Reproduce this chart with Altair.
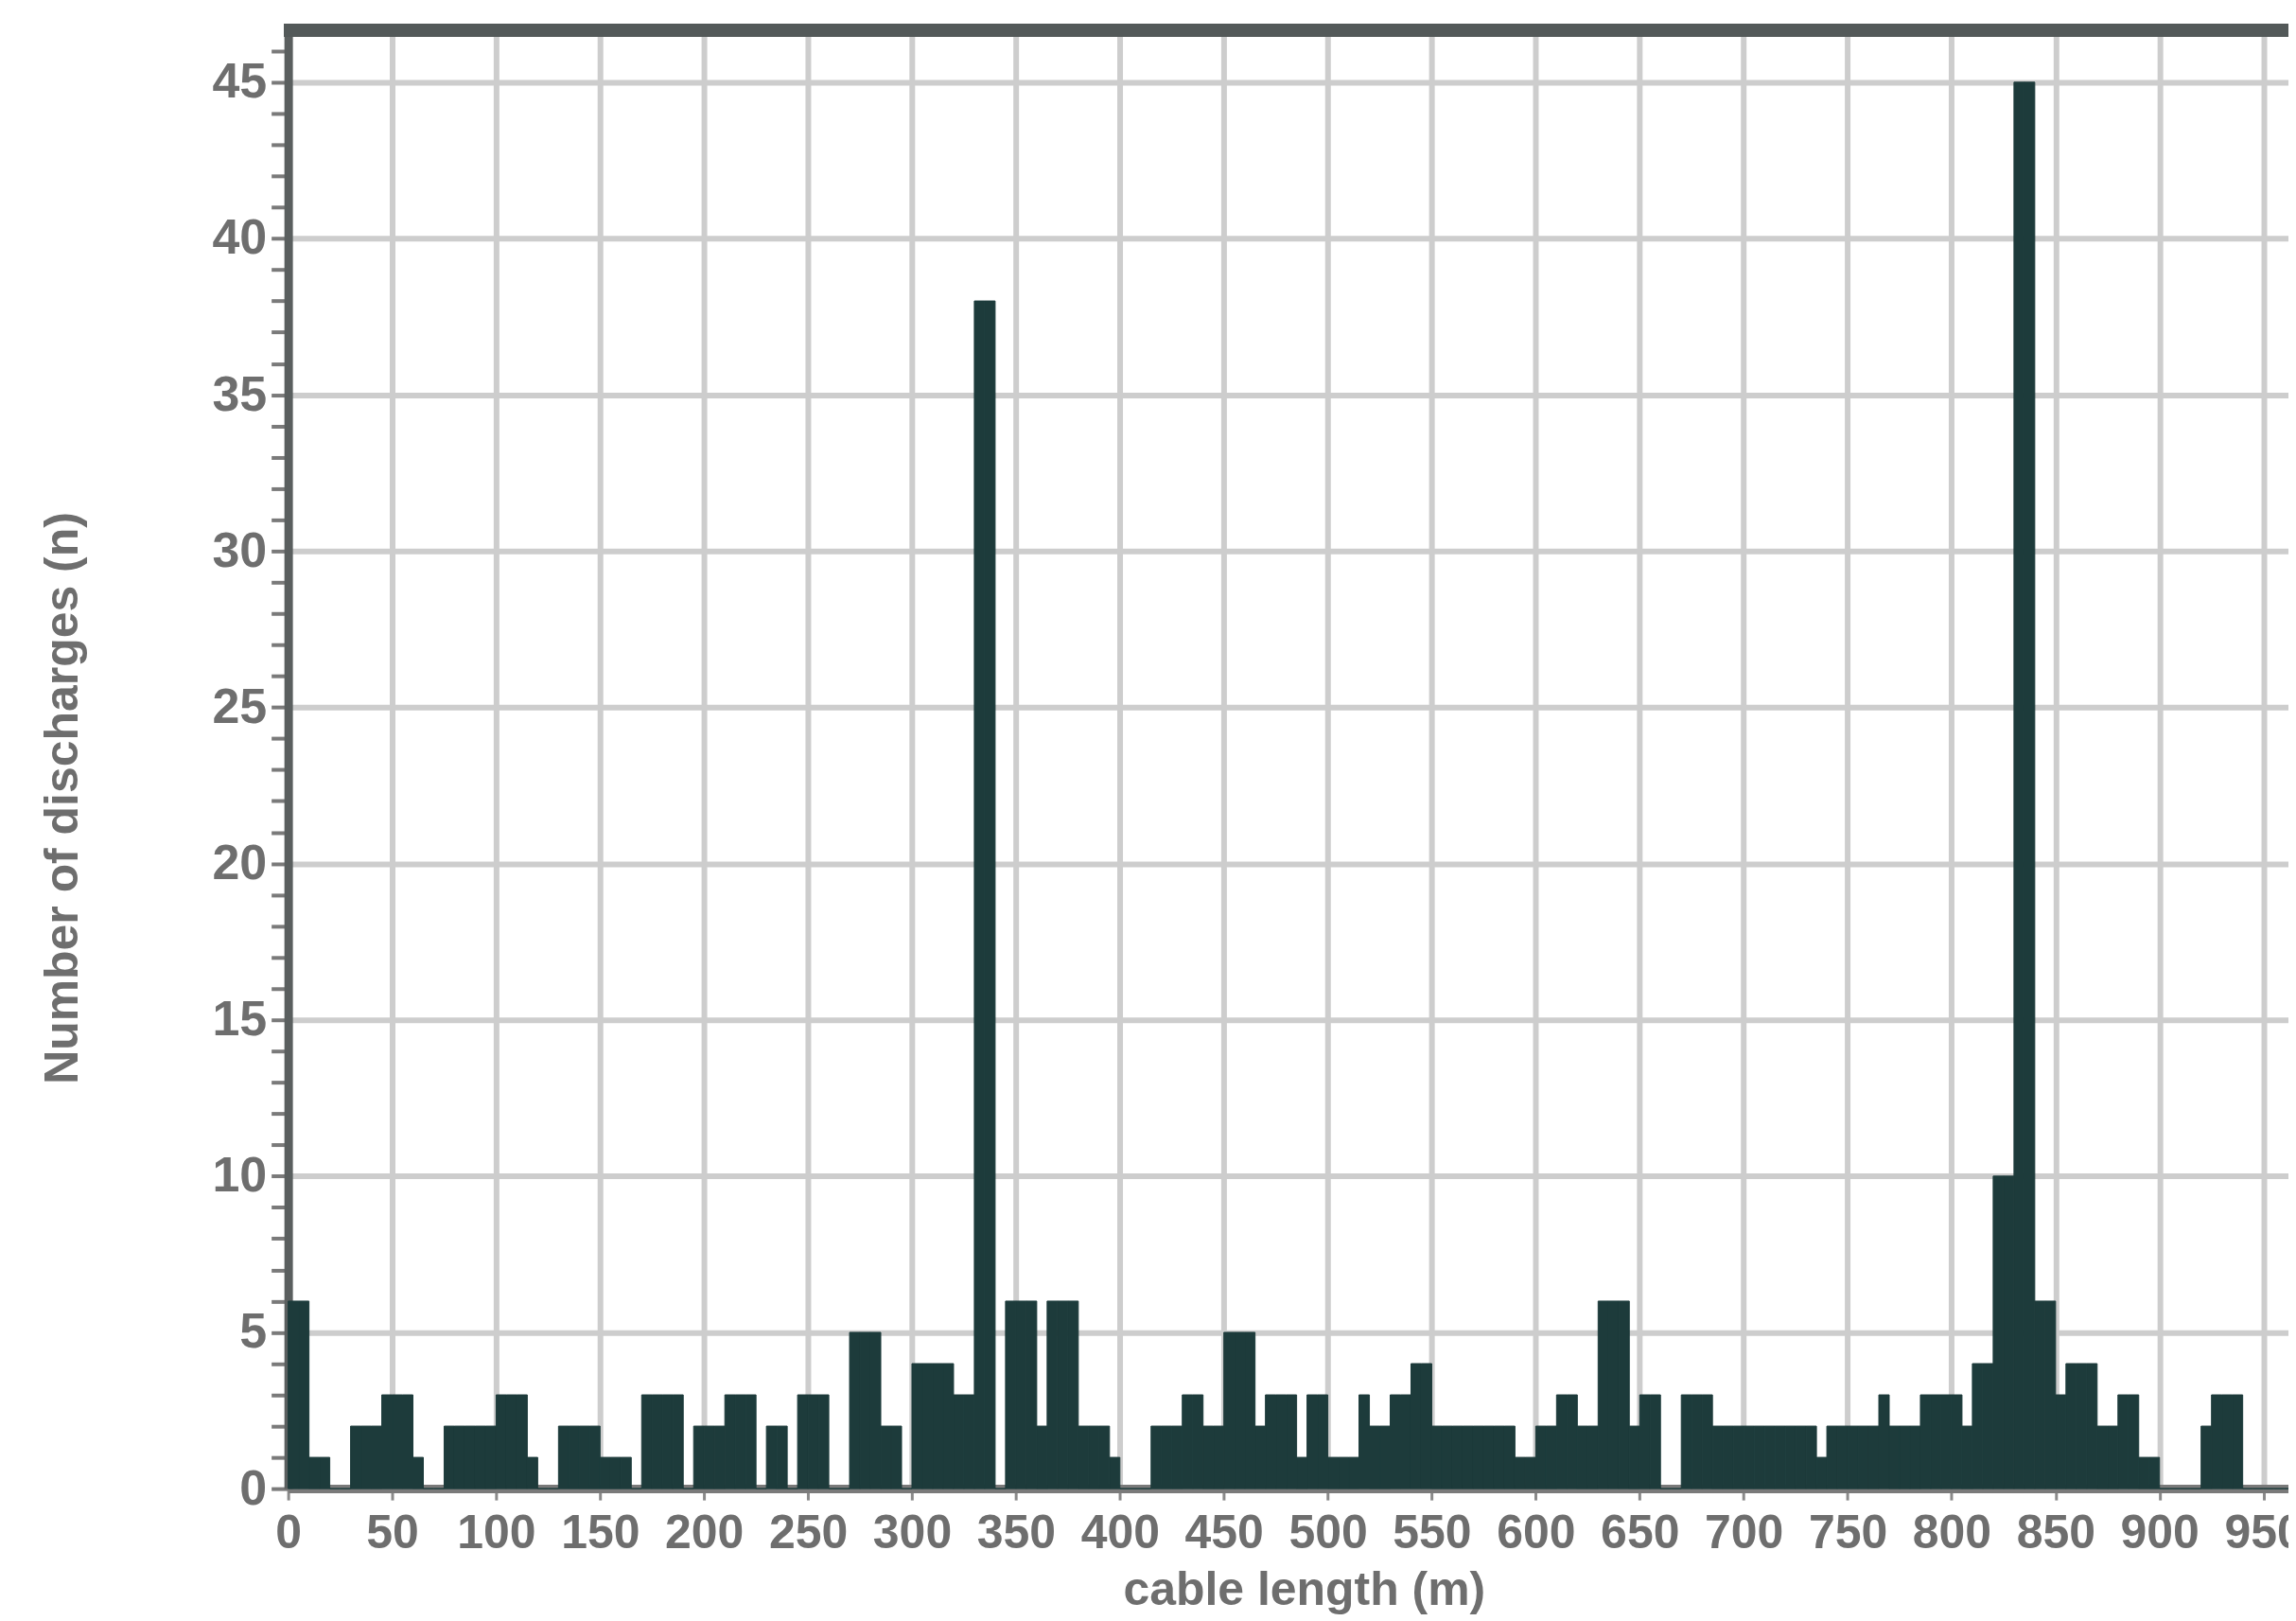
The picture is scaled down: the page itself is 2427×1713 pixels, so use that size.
import altair as alt
import pandas as pd

# ---- data (5 m bins starting at 0 m) ----
bin_width = 5
counts = [
    6, 6, 1, 1, 0, 0,                      # 0-25
    2, 2, 2, 3, 3, 3, 1, 0, 0,             # 30-70
    2, 2, 2, 2, 2,                         # 75-95
    3, 3, 3, 1, 0, 0,                      # 100-125
    2, 2, 2, 2, 1, 1, 1, 0,                # 130-165
    3, 3, 3, 3, 0,                         # 170-190
    2, 2, 2, 3, 3, 3, 0, 2, 2, 0,          # 195-240
    3, 3, 3, 0, 0,                         # 245-265
    5, 5, 5, 2, 2, 0,                      # 270-295
    4, 4, 4, 4, 3, 3,                      # 300-325
    38, 38, 0,                             # 330-340
    6, 6, 6, 2, 6, 6, 6,                   # 345-375
    2, 2, 2, 1, 0, 0, 0,                   # 380-410
    2, 2, 2, 3, 3, 2, 2,                   # 415-445
    5, 5, 5, 2, 3, 3, 3, 1, 3, 3,          # 450-495
    1, 1, 1, 3, 2, 2, 3, 3, 4, 4,          # 500-545
    2, 2, 2, 2, 2, 2, 2, 2, 1, 1,          # 550-595
    2, 2, 3, 3, 2, 2,                      # 600-625
    6, 6, 6, 2, 3, 3, 0, 0, 3, 3, 3,       # 630-680
    2, 2, 2, 2, 2, 2, 2, 2, 2, 2, 1,       # 685-735
    2, 2, 2, 2, 2, 3, 2, 2, 2, 3,          # 740-785
    3, 3, 3, 2, 4, 4, 10, 10, 45, 45,      # 790-835
    6, 6, 3, 4, 4, 4, 2, 2, 3, 3, 1, 1,    # 840-895
    0, 0, 0, 0, 2, 3, 3, 3, 0,             # 900-940
    0, 0, 0, 0, 0,                         # 945-965
]
bin_start = list(range(0, bin_width * len(counts), bin_width))
bin_end = [s + bin_width for s in bin_start]

x_tick_values = list(range(0, 1000, 50))
y_tick_values = list(range(0, 47))

x_title = "cable length (m)"
y_title = "Number of discharges (n)"

df = pd.DataFrame({"start": bin_start, "end": bin_end, "count": counts})

W, H = 2117, 1541
TEXT = "#6e6e6e"
FONT = "Liberation Sans"
BAR = "#1d3b3b"

x_scale = alt.Scale(domain=[0, 962], nice=False, zero=False)
y_scale = alt.Scale(domain=[0, 46.6], nice=False)

x_axis = alt.Axis(
    values=x_tick_values,
    title=x_title,
    labelFlush=False,
    labelOverlap=False,
    labelFont=FONT,
    labelFontSize=50,
    labelFontWeight="bold",
    labelColor=TEXT,
    labelPadding=10,
    tickColor="#8a8a8a",
    tickSize=12,
    tickWidth=3,
    domainColor="#7a7a7a",
    domainWidth=9,
    gridColor="#cdcdcd",
    gridWidth=6,
    titleFont=FONT,
    titleFontSize=50,
    titleFontWeight="bold",
    titleColor=TEXT,
    titleX=1075,
    titleY=108,
    titleBaseline="middle",
    titleAlign="center",
)

y_axis = alt.Axis(
    values=y_tick_values,
    labelExpr="datum.value % 5 === 0 ? datum.label : ''",
    labelOverlap=False,
    labelFont=FONT,
    labelFontSize=52,
    labelFontWeight="bold",
    labelColor=TEXT,
    labelPadding=5,
    tickColor="#7a7a7a",
    tickSize=18,
    tickWidth=4,
    domainColor="#5a5f5f",
    domainWidth=9,
    gridColor="#cdcdcd",
    gridWidth=6,
    gridOpacity={"condition": {"test": "datum.value % 5 === 0", "value": 1}, "value": 0},
    title=y_title,
    titleFont=FONT,
    titleFontSize=50,
    titleFontWeight="bold",
    titleColor=TEXT,
    titleX=-238,
    titleY=810,
    titleBaseline="middle",
    titleAlign="center",
)

bars = alt.Chart(df).mark_rect(color=BAR, stroke=BAR, strokeWidth=1).encode(
    x=alt.X("start:Q", scale=x_scale, axis=x_axis),
    x2="end:Q",
    y=alt.Y("count:Q", scale=y_scale, axis=y_axis),
    y2=alt.datum(0),
)

top_frame = alt.Chart(df).mark_rule(color="#535959", strokeWidth=13).encode(
    x=alt.value(-4), x2=alt.value(W), y=alt.value(-2)
)

chart = alt.layer(bars, top_frame).properties(
    width=W,
    height=H,
    padding={"left": 297, "top": 25, "right": 0, "bottom": 135},
    autosize=alt.AutoSizeParams(type="none"),
).configure_view(stroke=None)

chart.save("out.html", embed_options={"renderer": "svg", "actions": False})
